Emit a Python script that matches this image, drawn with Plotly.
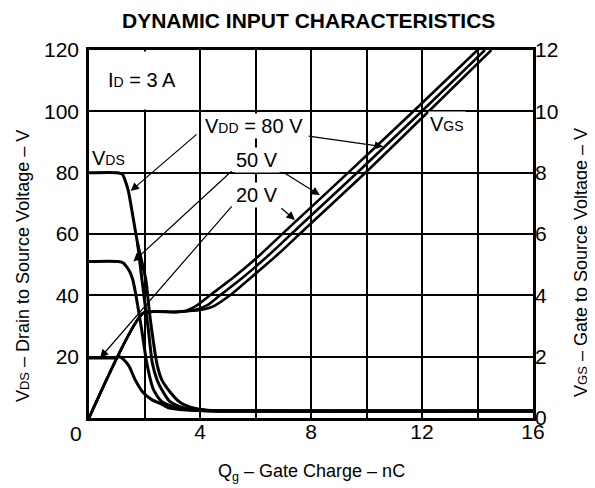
import plotly.graph_objects as go

# ---------------- data ----------------
x_tickvals = [0, 2, 4, 6, 8, 10, 12, 14, 16]
x_ticktext = ["", "", "4", "", "8", "", "12", "", "16"]
y_tickvals = [0, 20, 40, 60, 80, 100, 120]
y_ticktext = ["", "20", "40", "60", "80", "100", "120"]
y2_tickvals = [0, 2, 4, 6, 8, 10, 12]
y2_ticktext = ["0", "2", "4", "6", "8", "10", "12"]

# V_DS curves (V) vs Qg (nC)
q_vds80 = [0, 1.0, 1.2, 1.32, 1.42, 1.75, 2.05, 2.17, 2.26, 2.44, 2.62, 2.92, 3.3, 3.8, 4.5, 6, 16]
vds80 = [80, 80, 79.5, 77, 74, 57, 45, 35, 28.7, 18, 12.5, 8.5, 5, 3.2, 2.4, 2.3, 2.3]
q_vds80b = [1.75, 1.91, 2.02, 2.14, 2.28, 2.45, 2.62, 2.9, 3.3, 3.93, 5, 16]
vds80b = [57, 45, 37, 28.7, 18, 12.5, 9.3, 5.5, 3.6, 2.5, 2.3, 2.3]
q_vds50 = [0, 1.05, 1.25, 1.38, 1.48, 1.58, 1.68, 1.9, 2.08, 2.32, 2.6, 3.0, 3.57, 4.2, 16]
vds50 = [51, 51, 50.5, 49, 47.5, 45, 40.6, 28.7, 18, 9.3, 5.5, 3.8, 3.0, 2.4, 2.3]
q_vds20 = [0, 0.9, 1.1, 1.3, 1.45, 1.66, 1.95, 2.26, 2.6, 2.86, 3.5, 4.2, 16]
vds20 = [19.6, 19.6, 20.0, 18.6, 16.8, 12.5, 8.3, 6.0, 4.6, 3.3, 2.6, 2.35, 2.3]

# V_GS curves (V) vs Qg (nC)
q_vgs20 = [0, 1.95, 3.0, 3.5, 3.9, 4.36, 5.2, 6.2, 7.2, 9.4, 11.75, 14.0]
vgs20 = [0, 3.42, 3.45, 3.5, 3.68, 4.0, 4.58, 5.35, 6.2, 8.05, 10.05, 12.0]
q_vgs50 = [0, 1.95, 3.2, 3.9, 4.3, 4.72, 5.5, 6.5, 7.5, 9.7, 12.05, 14.27]
vgs50 = [0, 3.42, 3.46, 3.55, 3.7, 4.0, 4.55, 5.33, 6.18, 8.03, 10.05, 12.0]
q_vgs80 = [0, 1.95, 3.2, 4.0, 4.5, 5.08, 5.8, 6.8, 7.8, 10.0, 12.3, 14.5]
vgs80 = [0, 3.42, 3.46, 3.52, 3.65, 4.0, 4.55, 5.33, 6.18, 8.03, 10.05, 12.0]

FONT = "Liberation Sans, Arial, Helvetica, sans-serif"

fig = go.Figure()

for q, v in [(q_vds80, vds80), (q_vds80b, vds80b), (q_vds50, vds50), (q_vds20, vds20)]:
    fig.add_trace(go.Scatter(x=q, y=v, mode="lines", yaxis="y",
                             line=dict(color="black", width=3, shape="spline", smoothing=0.6),
                             hoverinfo="skip", showlegend=False))

for q, v in [(q_vgs20, vgs20), (q_vgs50, vgs50), (q_vgs80, vgs80)]:
    fig.add_trace(go.Scatter(x=q, y=v, mode="lines", yaxis="y2",
                             line=dict(color="black", width=2.6, shape="spline", smoothing=0.5),
                             hoverinfo="skip", showlegend=False))

sub = lambda s, sz=14: f'<span style="font-size:{sz}px">{s}</span>'

labels = [
    ("V" + sub("DD") + " = 80 V", 5.95, 95.2),
    ("50 V", 6.07, 84.1),
    ("20 V", 6.04, 72.7),
    ("V" + sub("GS"), 12.9, 95.9),
    ("V" + sub("DS"), 0.72, 84.8),
    ("I" + sub("D") + " = 3 A", 1.91, 110.2),
]
annotations = []
for txt, x, y in labels:
    annotations.append(dict(text=txt, x=x, y=y, xref="x", yref="y", showarrow=False,
                            xanchor="center", yanchor="middle",
                            font=dict(family=FONT, size=20, color="black"),
                            bgcolor="white", borderpad=1))

arrows = [
    ((3.93, 92.9), (1.5, 74)),
    ((7.86, 92.0), (10.6, 88.5)),
    ((5.19, 80.9), (1.6, 51)),
    ((6.99, 80.2), (8.32, 72.7)),
    ((5.19, 69.5), (0.4, 19.6)),
    ((6.88, 68.8), (7.42, 64.6)),
]
for (ax, ay), (x, y) in arrows:
    annotations.append(dict(text="", x=x, y=y, ax=ax, ay=ay, xref="x", yref="y",
                            axref="x", ayref="y", showarrow=True, arrowhead=2,
                            arrowsize=1.4, arrowwidth=1.2, arrowcolor="black", standoff=0))

def paper_text(txt, x, y, size, angle=0, bold=False):
    return dict(text=f"<b>{txt}</b>" if bold else txt, x=x, y=y, xref="paper", yref="paper",
                xanchor="center", yanchor="middle", textangle=angle, showarrow=False,
                font=dict(family=FONT, size=size, color="black"))

annotations += [
    paper_text("DYNAMIC INPUT CHARACTERISTICS", 0.495, 1.079, 21, bold=True),
    paper_text("V" + sub("DS", 13) + " – Drain to Source Voltage – V", -0.1486, 0.413, 18, angle=-90),
    paper_text("V" + sub("GS", 13) + " – Gate to Source Voltage – V", 1.108, 0.424, 18, angle=-90),
    paper_text("Q<sub>g</sub> – Gate Charge – nC", 0.5, -0.148, 18),
    paper_text("0", -0.0293, -0.0408, 21),
]

shapes = [dict(type="rect", xref="x", yref="y", x0=0.05, x1=3.9, y0=100.6, y1=119.5,
               fillcolor="white", line=dict(width=0), layer="between")]

# the page body has an 8px margin, so the figure is 8px smaller and placed 8px up/left
fig.update_layout(
    width=587, height=480,
    margin=dict(l=81, r=62, t=42, b=70),
    paper_bgcolor="white", plot_bgcolor="white",
    showlegend=False,
    font=dict(family=FONT, color="black", size=20),
    xaxis=dict(range=[0, 16], tickvals=x_tickvals, ticktext=x_ticktext,
               showgrid=True, gridcolor="black", gridwidth=1.6,
               showline=True, linecolor="black", linewidth=2.5, mirror=True,
               zeroline=False, ticks="", tickfont=dict(size=21), ticklabelstandoff=-7),
    yaxis=dict(range=[0, 120], tickvals=y_tickvals, ticktext=y_ticktext,
               showgrid=True, gridcolor="black", gridwidth=1.6,
               showline=True, linecolor="black", linewidth=2.5, mirror=True,
               zeroline=False, ticks="", tickfont=dict(size=21), ticklabelstandoff=3),
    yaxis2=dict(range=[0, 12], tickvals=y2_tickvals, ticktext=y2_ticktext,
                overlaying="y", side="right", showgrid=False, zeroline=False,
                showline=False, ticks="", tickfont=dict(size=21), ticklabelstandoff=1),
    annotations=annotations,
    shapes=shapes,
)

fig.write_html("out.html")
